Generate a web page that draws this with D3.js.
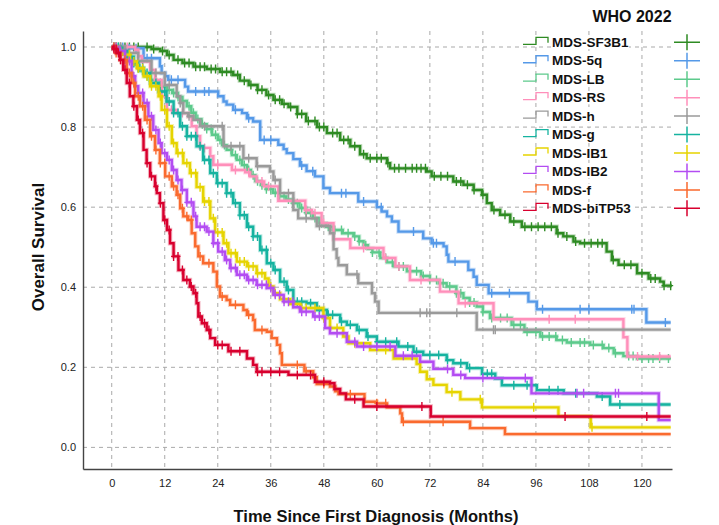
<!DOCTYPE html>
<html><head><meta charset="utf-8">
<script src="https://cdn.jsdelivr.net/npm/d3@7"></script>
<style>html,body{margin:0;padding:0;background:#fff}svg{display:block}</style>
</head><body>
<svg id="chart" width="719" height="525"></svg>
<script>
// ---------------- DATA ----------------
const seriesNames = ["MDS-SF3B1","MDS-5q","MDS-LB","MDS-RS","MDS-h","MDS-g","MDS-IB1","MDS-IB2","MDS-f","MDS-biTP53"];
const seriesColors = ["#2e8b23","#5599e8","#5dca8c","#ff8fba","#9a9a9a","#16b3a0","#e6d400","#b34cf2","#fa6a2e","#d8002e"];
const xTicks = [0,12,24,36,48,60,72,84,96,108,120];
const yTicks = [0.0,0.2,0.4,0.6,0.8,1.0];
const yTickLabels = ["0.0","0.2","0.4","0.6","0.8","1.0"];
const endTimes = [126.8,126.5,126.5,126.5,126.5,126.5,126.5,126.5,126.5,126.5];

const sf3b1Steps = [[0,1],[7,1],[9,0.995],[11,0.99],[12.5,0.98],[14,0.968],[16,0.96],[18.5,0.951],[21.5,0.945],[24.5,0.938],[27.5,0.93],[29,0.916],[31,0.905],[33,0.893],[35,0.88],[36.6,0.868],[38.5,0.858],[40,0.85],[42,0.833],[44,0.815],[46.5,0.8],[48.7,0.785],[51.7,0.768],[54,0.752],[56.2,0.732],[57.7,0.722],[62.3,0.71],[63,0.697],[71.3,0.689],[72.4,0.677],[77.3,0.664],[79.6,0.656],[81.9,0.643],[83.8,0.631],[84.9,0.61],[86,0.593],[87.9,0.581],[90.2,0.564],[92.8,0.551],[100.7,0.535],[102.2,0.527],[104.5,0.514],[106,0.51],[112,0.489],[113.2,0.468],[114.7,0.456],[118.9,0.435],[121.5,0.422],[124.1,0.414],[124.9,0.404]];
const sf3b1Censor = [1,2,3,4,5,6,8,9.5,11.5,13,15,16.5,17.5,19,20,21,22.5,23.5,25,26,27,28.5,30,31.5,33,34,35.5,37,38,39,40.5,42,43,44.5,46,47,48,50,51,52.5,53.5,55,57,58.5,60,61,62.5,64,65,66.5,68,69,70,71,73,74.5,76,78,79,80.5,82,84,86.5,89,91,93.5,95,96.5,98,99.5,101,103,105,107,108.5,110,111,113.5,116,117.5,120,122,123,125,126.5];

const q5Steps = [[0,1],[4,0.997],[7.2,0.972],[10.9,0.952],[11.3,0.935],[12.1,0.927],[12.8,0.918],[16.6,0.901],[17.3,0.889],[24.1,0.877],[25.3,0.864],[26,0.856],[27.5,0.843],[29.5,0.835],[30.6,0.822],[32,0.814],[33.6,0.768],[37.7,0.756],[38.9,0.745],[39.6,0.735],[41.1,0.72],[42.6,0.704],[44.1,0.69],[46,0.677],[47.9,0.648],[49.4,0.635],[55.8,0.614],[60,0.6],[61.1,0.589],[62.3,0.577],[63.4,0.564],[64.9,0.539],[70.5,0.522],[72.4,0.51],[75.1,0.502],[75.8,0.481],[76.2,0.464],[80.7,0.443],[81.9,0.426],[82.6,0.406],[85.3,0.385],[94.3,0.364],[96.2,0.345],[121,0.312]];
const q5Censor = [1,2.5,4,5.5,8,9,13.5,15,19,21,22,28,31,34.5,36,43,45.5,52,53,57,61,68.3,72.8,73.5,77.7,86,90,97.5,106,108,117.7,118.2,125.3];

const lbSteps = [[0,1],[2,0.99],[3.5,0.975],[5,0.955],[6.2,0.94],[7.5,0.927],[8.7,0.918],[10,0.91],[11.2,0.9],[12.5,0.893],[13.7,0.885],[15,0.875],[16,0.865],[17,0.852],[18,0.836],[19,0.82],[20.3,0.807],[21.5,0.795],[22.7,0.781],[24,0.768],[25,0.755],[26,0.743],[27.2,0.73],[28.3,0.718],[29.5,0.705],[30.6,0.693],[31.5,0.68],[32.5,0.665],[33.8,0.655],[35,0.645],[36.5,0.636],[38,0.627],[39.5,0.619],[41,0.61],[42.5,0.598],[44,0.586],[45.5,0.573],[47,0.56],[48.5,0.551],[50,0.543],[52.3,0.535],[54.7,0.527],[56,0.515],[57,0.505],[58,0.496],[59,0.487],[60.8,0.473],[62.3,0.462],[63.8,0.452],[66.8,0.44],[70,0.428],[72,0.418],[74,0.41],[75.8,0.402],[78,0.385],[79.6,0.373],[81,0.362],[82.6,0.352],[84,0.338],[85.6,0.323],[90.5,0.306],[93.4,0.289],[97,0.277],[100.7,0.268],[103,0.262],[108.3,0.256],[111.3,0.248],[113.6,0.235],[115.8,0.228],[118.9,0.222]];
const lbCensor = [0.5,1.5,2.5,3.5,4.5,6,7,8,9,10,11,12,13,14,15,16,17.5,18.5,19.5,20.5,21.5,22.5,23.5,24.5,25.5,27,28,29,30,31,32,33,34,35,36,37,38,39,40,41,42,43,44,45,46,47.5,49,50.5,52,53.5,55,56,57.5,59,60.5,62,63.5,65,66,67.5,69,70.5,72,73.5,75,76.5,78,79,81,82,84,86,88,89.5,91,92.5,94,96,97.5,99,100.5,102,104,106,107,109,111,112.5,114,117,118,120,121.5,122.5,124,126];

const rsSteps = [[0,1],[5.3,0.993],[6,0.977],[6.8,0.964],[8.7,0.943],[9.8,0.918],[11.3,0.877],[12.5,0.843],[14.7,0.835],[17.3,0.827],[18.1,0.802],[19.2,0.777],[20,0.748],[22.3,0.727],[23,0.706],[27.2,0.693],[30.2,0.687],[31.3,0.677],[32.8,0.664],[34.5,0.652],[37.7,0.616],[43.8,0.593],[45.3,0.585],[47.5,0.56],[50.2,0.52],[54,0.498],[61.5,0.473],[64.2,0.452],[67.5,0.418],[74.3,0.389],[78.5,0.36],[86.4,0.32],[115.8,0.275],[116.7,0.227]];
const rsCensor = [1,2,3.5,7,10,13.5,16,21,24,28,31,34,35.5,44,46,48,57,62,65,70,80,99,104.9,119,124];

const hSteps = [[0,1],[3,0.985],[6,0.965],[9,0.935],[12,0.905],[14.7,0.877],[15.5,0.86],[16.2,0.835],[17.3,0.827],[18.5,0.818],[20,0.802],[25.3,0.752],[29.8,0.722],[32.8,0.702],[35.8,0.689],[36.6,0.668],[38.1,0.635],[41.1,0.593],[42.2,0.572],[46.4,0.553],[49.4,0.535],[50.2,0.495],[50.9,0.473],[51.3,0.455],[53.2,0.432],[55.8,0.41],[58.9,0.385],[59.6,0.364],[60.4,0.336],[82.6,0.294]];
const hCensor = [1,2,4,6,10,13,15.5,17.5,21,25,27,29,31,33,37,40,44,47,55.5,69.8,71.3,72,78.1,86.4,86.8];

const gSteps = [[0,1],[2,0.99],[3.5,0.975],[4.9,0.96],[6,0.948],[7.2,0.935],[8.7,0.91],[10.6,0.889],[12.4,0.864],[14,0.835],[15.5,0.802],[17,0.777],[19.2,0.752],[20.7,0.718],[22.3,0.685],[23.8,0.66],[26,0.635],[27.5,0.61],[29,0.58],[30.6,0.551],[32,0.527],[33.6,0.493],[35.1,0.46],[36.6,0.443],[38.1,0.414],[39.6,0.393],[41.1,0.364],[44.1,0.36],[46.4,0.343],[48.7,0.331],[51.7,0.314],[53.2,0.306],[55.5,0.293],[57.7,0.277],[60,0.264],[64.9,0.252],[68.3,0.239],[70.5,0.231],[75.8,0.218],[77.3,0.21],[80.4,0.198],[83.8,0.184],[86.8,0.172],[88.3,0.155],[96.2,0.143],[102.3,0.135],[109.8,0.127],[112.8,0.107]];
const gCensor = [0.5,1.5,2.5,4,5,6,7,8,9,10,11,12,13,14,15,16,17,18,19,20,21,22,23,24,25,26,27,28,29,30,31,32,33,34,35,36,37,39,40,42,43,45,47,49,50,52,54,56,58,60,62,64.5,67,69,72,74,76,79,81,85,86,91,94,99,101,105,111,115];

const ib1Steps = [[0,1],[1.5,0.99],[2.6,0.981],[4.1,0.964],[5.7,0.947],[7.2,0.927],[8.7,0.902],[10.6,0.877],[11.3,0.843],[12.5,0.802],[13.6,0.76],[14.7,0.735],[16.2,0.71],[17.7,0.685],[19.2,0.65],[20.7,0.614],[22.3,0.572],[23.4,0.537],[25.3,0.51],[26.4,0.485],[28.3,0.464],[30.6,0.452],[32.8,0.435],[34.7,0.422],[35.5,0.402],[36.6,0.385],[38.1,0.37],[40.4,0.358],[42.6,0.348],[47.9,0.323],[49.4,0.298],[52.4,0.277],[53.6,0.26],[58.5,0.243],[63.8,0.222],[69,0.208],[69.8,0.189],[71.3,0.17],[72.8,0.156],[75.8,0.138],[78.9,0.12],[83.8,0.1],[101.1,0.078],[108.4,0.05]];
const ib1Censor = [0.5,1,2,3,4,5,6,7,8,9,10,11,12,13,14,15,16,17,18,19,20,21,22,23,24,25,26,27,28,29,30,31,32,33,34,36,37,39,41,43,44,46,48,51,55,62,77,83.4,95.5,108.7];

const ib2Steps = [[0,1],[1.5,0.99],[3,0.965],[4.5,0.927],[5.3,0.902],[6,0.885],[7.2,0.86],[8.3,0.827],[9.4,0.793],[10.6,0.76],[11.3,0.735],[12.5,0.718],[13.6,0.693],[14.7,0.668],[15.8,0.643],[17,0.612],[18.5,0.577],[19.2,0.551],[21.5,0.539],[23,0.51],[24.1,0.489],[25.6,0.468],[26.8,0.448],[28.3,0.431],[30.6,0.418],[32.8,0.406],[35.1,0.398],[36.6,0.381],[38.9,0.364],[41.1,0.35],[42.6,0.339],[45.6,0.327],[48.3,0.298],[49.4,0.285],[53.2,0.264],[55.5,0.252],[64.2,0.229],[69.8,0.214],[72.8,0.196],[77.3,0.181],[80,0.173],[95,0.135],[123.8,0.068]];
const ib2Censor = [0.5,1,2,3,4,5,6,7,8,9,10,11,12,13,14,15,16,17,18,19,20,21,22,23,24,25,26,27,28,29,30,31,32,33,34,35,36,37,38,39,40,41,43,44,46,47,51,55,57,60,63,66,68,76,79,84,93.6,105.3,106.8,114,114.7];

const fSteps = [[0,1],[1,0.985],[1.9,0.968],[3.4,0.935],[4.5,0.91],[5.3,0.877],[6.4,0.852],[7.5,0.818],[8.7,0.777],[9.8,0.743],[10.9,0.71],[12.1,0.677],[13.6,0.652],[14.7,0.631],[15.5,0.597],[16.2,0.577],[17.3,0.568],[18.1,0.535],[18.9,0.502],[19.6,0.477],[20.7,0.46],[23,0.439],[23.8,0.402],[24.5,0.377],[26,0.368],[26.8,0.356],[29.8,0.343],[30.6,0.331],[32,0.318],[32.4,0.293],[35.1,0.289],[36.2,0.273],[37.4,0.256],[38.1,0.235],[38.5,0.206],[43.6,0.19],[45.6,0.175],[46.4,0.158],[49.4,0.152],[50.6,0.14],[51.3,0.133],[57.2,0.114],[60,0.11],[62.3,0.1],[65.3,0.085],[65.7,0.064],[81.1,0.048],[89,0.033]];
const fCensor = [0.5,1,2,3,4,5,6,7,8,9,10,11,12,13,14,15,16,17,18,20,22,25,28,31,34,42,44,48,54,60,62,66,75];

const tp53Steps = [[0,1],[0.4,0.995],[1.1,0.985],[1.9,0.968],[2.6,0.943],[3.4,0.91],[4.1,0.877],[4.9,0.852],[5.7,0.818],[6.4,0.785],[7.2,0.743],[7.9,0.71],[8.7,0.677],[9.8,0.652],[10.2,0.635],[10.9,0.61],[11.7,0.568],[12.5,0.543],[13.2,0.51],[14,0.477],[15.1,0.443],[16.2,0.418],[17.7,0.402],[18.5,0.385],[19.2,0.36],[19.6,0.327],[20.4,0.31],[21.5,0.293],[22.3,0.273],[23.4,0.256],[26.4,0.24],[30.6,0.222],[32,0.206],[32.8,0.189],[40,0.181],[46,0.164],[49.4,0.16],[50.4,0.146],[51.7,0.135],[53,0.12],[57,0.102],[72.2,0.077]];
const tp53Censor = [0.5,1,1.5,2,3,4,5,6,7,8,9,10,11,12,13,14,15,16,17,18,19,20,21,22,24,25,27,29,33,34,36,38,42,45,48,55,60,70.2,102.6,121.1];

const allSteps = [sf3b1Steps,q5Steps,lbSteps,rsSteps,hSteps,gSteps,ib1Steps,ib2Steps,fSteps,tp53Steps];
const allCensor = [sf3b1Censor,q5Censor,lbCensor,rsCensor,hCensor,gCensor,ib1Censor,ib2Censor,fCensor,tp53Censor];

// ---------------- CHART ----------------
const svg = d3.select("#chart");
const pLeft = 83, pRight = 672, pTop = 31, pBottom = 469;
const x = d3.scaleLinear().domain([-6.5, 126.8]).range([pLeft, pRight]);
const y = d3.scaleLinear().domain([-0.054, 1.04]).range([pBottom, pTop]);
const gridColor = "#a9a9a9";
const FONT = "'Liberation Sans', Arial, sans-serif";

const grid = svg.append("g");
grid.selectAll("line.v").data(xTicks).join("line")
  .attr("x1", d => x(d)).attr("x2", d => x(d)).attr("y1", pTop).attr("y2", pBottom)
  .attr("stroke", gridColor).attr("stroke-width", 1).attr("stroke-dasharray", "4,4");
grid.selectAll("line.h").data(yTicks).join("line")
  .attr("x1", pLeft).attr("x2", pRight).attr("y1", d => y(d)).attr("y2", d => y(d))
  .attr("stroke", gridColor).attr("stroke-width", 1).attr("stroke-dasharray", "4,4");

// axes
const xAxis = d3.axisBottom(x).tickValues(xTicks).tickSize(0).tickPadding(10).tickFormat(d3.format("d"));
const gx = svg.append("g").attr("transform", `translate(0,${pBottom})`).call(xAxis);
gx.select(".domain").attr("stroke", "#444").attr("stroke-width", 1.4);
gx.selectAll("text").attr("font-family", FONT).attr("font-size", 11).attr("fill", "#222");

const yAxis = d3.axisLeft(y).tickValues(yTicks).tickSize(0).tickPadding(7).tickFormat((d,i) => yTickLabels[i]);
const gy = svg.append("g").attr("transform", `translate(${pLeft},0)`).call(yAxis);
gy.select(".domain").attr("stroke", "#444").attr("stroke-width", 1.4);
gy.selectAll("text").attr("font-family", FONT).attr("font-size", 11).attr("fill", "#222");

// curves
svg.append("defs").append("clipPath").attr("id", "clip")
  .append("rect").attr("x", pLeft).attr("y", pTop - 5).attr("width", pRight - pLeft + 2).attr("height", pBottom - pTop + 5);
const plot = svg.append("g").attr("clip-path", "url(#clip)");
const line = d3.line().x(d => x(d[0])).y(d => y(d[1])).curve(d3.curveStepAfter);
function survAt(steps, t) {
  let s = steps[0][1];
  for (const p of steps) { if (p[0] <= t) s = p[1]; else break; }
  return s;
}
allSteps.forEach((steps, i) => {
  const pts = steps.concat([[endTimes[i], steps[steps.length - 1][1]]]);
  const g = plot.append("g");
  g.append("path").attr("d", line(pts)).attr("fill", "none")
    .attr("stroke", seriesColors[i]).attr("stroke-width", 4.4).attr("stroke-opacity", 0.3);
  g.append("path").attr("d", line(pts)).attr("fill", "none")
    .attr("stroke", seriesColors[i]).attr("stroke-width", 2.4);
  g.selectAll("path.c").data(allCensor[i]).join("path")
    .attr("d", t => {
      const cx = x(t), cy = y(survAt(steps, t));
      return `M${cx},${cy - 4.5}V${cy + 4.5}M${cx - 2.5},${cy}H${cx + 2.5}`;
    })
    .attr("stroke", seriesColors[i]).attr("stroke-width", 1.4).attr("fill", "none");
});

// legend
svg.append("text").attr("x", 632).attr("y", 21.5).attr("text-anchor", "middle")
  .attr("font-family", FONT).attr("font-weight", "bold").attr("font-size", 16)
  .attr("fill", "#111").text("WHO 2022");
const lg = svg.append("g");
seriesNames.forEach((name, i) => {
  const cy = 42.3 + i * 18.45;
  const c = seriesColors[i];
  const t = lg.append("text").attr("x", 552).attr("y", cy + 4.7)
    .attr("font-family", FONT).attr("font-weight", "bold").attr("font-size", 13.5)
    .attr("fill", "#111").text(name);
  const bb = t.node().getBBox();
  lg.insert("rect", "text").attr("x", bb.x).attr("y", bb.y + 1).attr("width", bb.width).attr("height", bb.height - 2).attr("fill", "#fff");
  lg.append("path").attr("d", `M523,${cy + 2}H536V${cy - 5}H548V${cy + 0.5}`)
    .attr("fill", "none").attr("stroke", c).attr("stroke-width", 1.3);
  lg.append("path").attr("d", `M674,${cy}H700M687,${cy - 8}V${cy + 8}`)
    .attr("fill", "none").attr("stroke", c).attr("stroke-width", 1.5);
});

// axis titles
svg.append("text").attr("x", 376).attr("y", 522).attr("text-anchor", "middle")
  .attr("font-family", FONT).attr("font-weight", "bold").attr("font-size", 16.5)
  .attr("fill", "#111").text("Time Since First Diagnosis (Months)");
svg.append("text").attr("transform", "translate(44,247) rotate(-90)").attr("text-anchor", "middle")
  .attr("font-family", FONT).attr("font-weight", "bold").attr("font-size", 17)
  .attr("fill", "#111").text("Overall Survival");
</script>
</body></html>
